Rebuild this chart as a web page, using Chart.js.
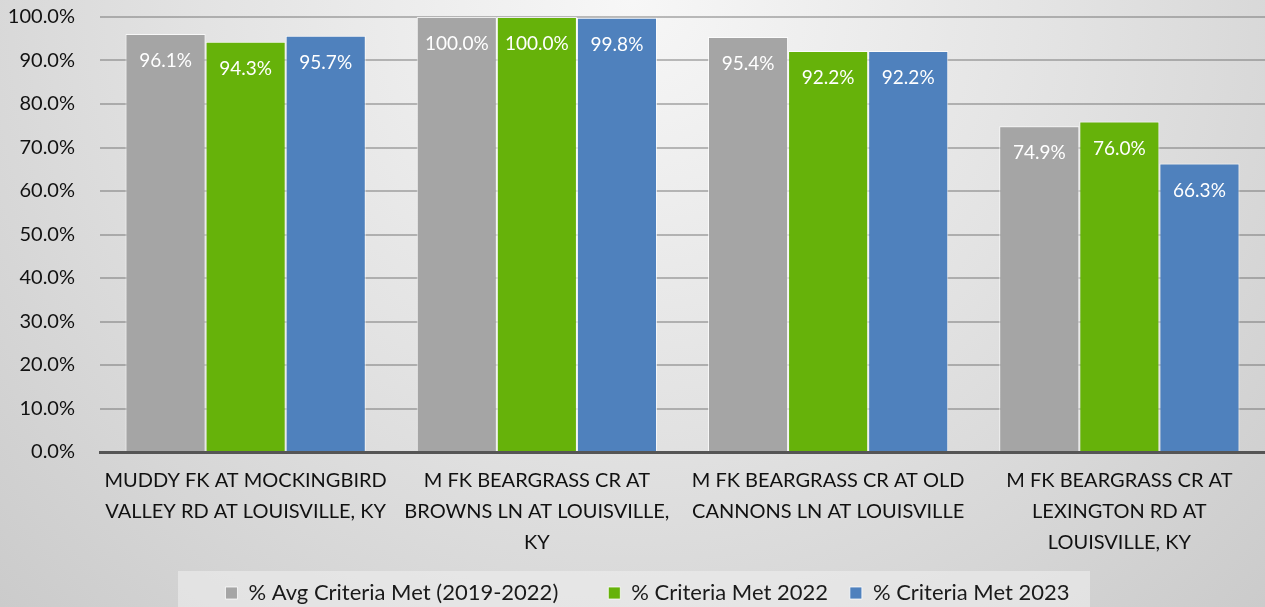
<!DOCTYPE html>
<html>
<head>
<meta charset="utf-8">
<script src="https://cdn.jsdelivr.net/npm/chart.js@4"></script>
<style>
  html, body { margin: 0; padding: 0; }
  body {
    width: 1265px; height: 607px; overflow: hidden;
    background: radial-gradient(ellipse farthest-corner at 50% 0%, #f7f7f7 0%, #e2e2e2 50%, #cbcbcb 100%);
  }
  #wrap { position: relative; width: 1265px; height: 607px; }
</style>
</head>
<body>
<div id="wrap"><canvas id="barChart" width="1265" height="607"></canvas></div>
<script>
// Chart data
const categories = [
    ['MUDDY FK AT MOCKINGBIRD', 'VALLEY RD AT LOUISVILLE, KY'],
    ['M FK BEARGRASS CR AT', 'BROWNS LN AT LOUISVILLE,', 'KY'],
    ['M FK BEARGRASS CR AT OLD', 'CANNONS LN AT LOUISVILLE'],
    ['M FK BEARGRASS CR AT', 'LEXINGTON RD AT', 'LOUISVILLE, KY']
];
const seriesNames = ['% Avg Criteria Met (2019-2022)', '% Criteria Met 2022', '% Criteria Met 2023'];
const avgMet = [96.1, 100.0, 95.4, 74.9];
const met2022 = [94.3, 100.0, 92.2, 76.0];
const met2023 = [95.7, 99.8, 92.2, 66.3];
const yTicks = [0, 10, 20, 30, 40, 50, 60, 70, 80, 90, 100];
// trailing spaces per legend entry (Excel spaces the entries unevenly)
const legendGaps = [8, 3, 0];

const FONT = "Lato, 'Open Sans', sans-serif";

// white value labels just inside the top of each bar
const valueLabels = {
    id: 'valueLabels',
    afterDatasetsDraw(chart) {
        const ctx = chart.ctx;
        ctx.save();
        ctx.fillStyle = '#ffffff';
        ctx.font = '19px ' + FONT;
        ctx.textAlign = 'center';
        ctx.textBaseline = 'middle';
        chart.data.datasets.forEach((ds, i) => {
            chart.getDatasetMeta(i).data.forEach((bar, j) => {
                ctx.fillText(ds.data[j].toFixed(1) + '%', bar.x, bar.y + 27);
            });
        });
        ctx.restore();
    }
};

// lighter panel behind the legend, legend nudged a bit right
const legendPanel = {
    id: 'legendPanel',
    afterUpdate(chart) {
        const lg = chart.legend;
        lg.left += 15;
        lg.right += 15;
        lg.adjustHitBoxes();
    },
    beforeDraw(chart) {
        const ctx = chart.ctx;
        ctx.save();
        ctx.fillStyle = 'rgba(240,240,240,0.55)';
        ctx.fillRect(178, 571, 912, 40);
        ctx.restore();
    }
};

const ctxBar = document.getElementById('barChart').getContext('2d');
const barChart = new Chart(ctxBar, {
    type: 'bar',
    data: {
        labels: categories,
        datasets: [
            { label: seriesNames[0], data: avgMet, backgroundColor: '#a5a5a5' },
            { label: seriesNames[1], data: met2022, backgroundColor: '#66b20a' },
            { label: seriesNames[2], data: met2023, backgroundColor: '#4f81bd' }
        ].map(d => Object.assign(d, {
            borderColor: 'rgba(255,255,255,0.75)',
            borderWidth: 1,
            barPercentage: 1.0,
            categoryPercentage: 0.825
        }))
    },
    options: {
        responsive: false,
        animation: false,
        devicePixelRatio: 1,
        layout: { padding: { top: 17, right: 0, left: 0, bottom: -7 } },
        plugins: {
            legend: {
                position: 'bottom',
                labels: {
                    boxWidth: 12,
                    boxHeight: 12,
                    padding: 5,
                    color: '#1a1a1a',
                    font: { family: FONT, size: 22 },
                    generateLabels: chart => Chart.defaults.plugins.legend.labels.generateLabels(chart)
                        .map((l, i) => Object.assign(l, { text: l.text + ' '.repeat(legendGaps[i]) }))
                }
            },
            tooltip: { enabled: false }
        },
        scales: {
            x: {
                grid: { display: false },
                border: { display: true, color: '#555555', width: 3 },
                afterFit: axis => { axis.height = 125; },
                ticks: {
                    color: '#111111',
                    font: { family: FONT, size: 20, lineHeight: 1.55 },
                    padding: 5,
                    maxRotation: 0,
                    autoSkip: false
                }
            },
            y: {
                min: 0,
                max: 100,
                afterBuildTicks: axis => { axis.ticks = yTicks.map(v => ({ value: v })); },
                afterFit: axis => {
                    axis.width = 100;
                    axis.paddingTop = 0;
                    axis.paddingBottom = 0;
                },
                grid: { color: 'rgba(100,100,100,0.42)', lineWidth: 2, drawTicks: false },
                border: { display: false },
                ticks: {
                    color: '#111111',
                    padding: 25,
                    font: { family: FONT, size: 20 },
                    callback: v => v.toFixed(1) + '%'
                }
            }
        }
    },
    plugins: [legendPanel, valueLabels]
});
</script>
</body>
</html>
